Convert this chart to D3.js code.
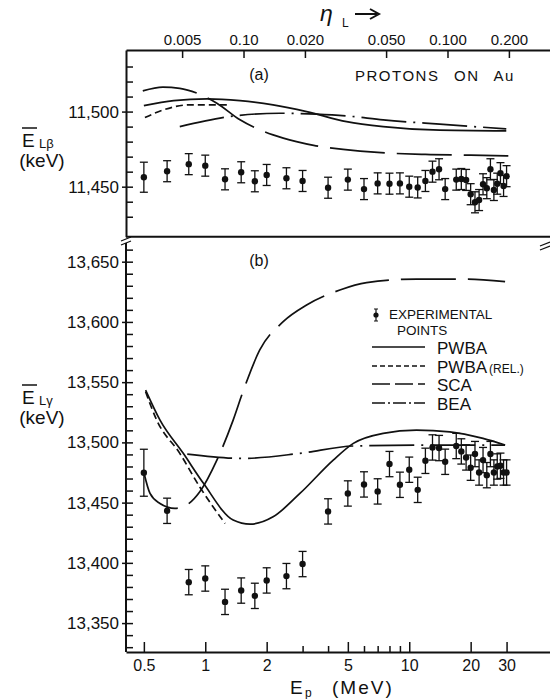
<!DOCTYPE html>
<html>
<head>
<meta charset="utf-8">
<script src="https://cdn.jsdelivr.net/npm/d3@7/dist/d3.min.js"></script>
<style>
  body { margin: 0; background: #fff; }
  svg { display: block; font-family: "Liberation Sans", Arial, sans-serif; }
  .axis path, .axis line { stroke: #111; }
  .axis text { fill: #111; }
</style>
</head>
<body>
<div id="chart"></div>
<script>
// Proton energies (MeV) of the measured points, shared by both panels
var energies = [0.5, 0.65, 0.83, 1.0, 1.25, 1.5, 1.75, 2.0, 2.5, 3.0, 4, 5, 6, 7, 8, 9, 10, 11,
                12, 13, 14, 15, 17, 18, 19, 20, 21, 22, 23, 24, 25, 26, 27, 28, 29, 30];

// (a) mean L-beta energy, keV
var lbetaValues = [11456.3, 11460.3, 11465, 11464, 11454.9, 11459.6, 11453.6, 11457.8, 11455.6, 11453.8,
                   11449.3, 11454.7, 11448.4, 11452.2, 11452, 11452.2, 11450, 11449.5, 11453.8, 11460,
                   11461.6, 11448.4, 11454.7, 11455.1, 11454.5, 11445, 11439.6, 11441.1, 11451.6, 11449,
                   11461.6, 11447.8, 11452, 11459, 11450.5, 11457];
var lbetaErrors = [10, 7, 7, 7, 7, 7, 7, 7, 7, 7, 7, 7, 7, 7, 7, 7, 7, 7,
                   7, 7, 7, 7, 7, 7, 7, 7, 7, 7, 7, 7, 7, 7, 7, 7, 7, 7];

// (b) mean L-gamma energy, keV
var lgammaValues = [13474.8, 13443.2, 13384, 13387, 13367.6, 13377, 13372.6, 13385.4, 13389, 13399,
                    13442.7, 13457.6, 13465.1, 13459.3, 13482, 13464.8, 13477.3, 13460.6, 13484.7, 13495.8,
                    13495.3, 13483.9, 13497, 13492.5, 13487.5, 13479, 13490.3, 13475, 13485.3, 13472.8,
                    13490.3, 13475, 13480, 13480.6, 13475, 13475];
var lgammaErrors = [19.5, 10.5, 10.5, 10.5, 10.5, 10.5, 10.5, 10.5, 10.5, 10.5, 10.5, 10.5, 10.5, 10.5, 10.5, 10.5, 10.5, 10.5,
                    10.5, 10.5, 10.5, 10.5, 10.5, 10.5, 10.5, 10.5, 10.5, 10.5, 10.5, 10.5, 10.5, 10.5, 10.5, 10.5, 10.5, 10.5];

// theory curves, panel (a)
var pwbaA_E = [0.5, 0.7, 1.02, 1.48, 2.15, 3.14, 4.93, 7.45, 13.1, 29.9];
var pwbaA_V = [11504, 11507.3, 11508.5, 11507.3, 11504.5, 11500, 11493.3, 11490, 11487.8, 11487.1];
var relA_E = [0.506, 0.623, 0.84, 1.32];
var relA_V = [11496, 11501.1, 11504.5, 11504.5];
var scaA_E = [0.494, 0.62, 0.75, 0.91, 1.14, 1.48, 2.15, 2.8, 3.4, 4.74, 7, 12, 20, 30.6];
var scaA_V = [11513.8, 11516.3, 11515.5, 11512.3, 11505.6, 11494.5, 11484.5, 11480, 11477.5, 11474.9, 11472.8, 11471.5, 11471, 11470.5];
var beaA_E = [0.75, 1.43, 2.32, 3.51, 4.93, 7.45, 14.1, 29.9];
var beaA_V = [11490, 11497.3, 11498.9, 11498.3, 11497.1, 11494.5, 11491.6, 11488.5];

// theory curves, panel (b)
var pwbaB_E = [0.51, 0.6, 0.78, 0.98, 1.37, 1.66, 2.15, 2.91, 4.24, 5.32, 7.45, 10.85, 15.8, 23, 29.5];
var pwbaB_V = [13543.4, 13518.5, 13490.9, 13466, 13435.5, 13432.1, 13438.2, 13457.6, 13485.3, 13499.2, 13507.5, 13510.2, 13508.8, 13503.3, 13497.8];
var relB_E = [0.51, 0.578, 0.75, 0.94, 1.25];
var relB_V = [13542, 13518.5, 13490.9, 13463, 13432.7];
var scaB_E = [0.5, 0.536, 0.6, 0.71, 0.81, 0.94, 1.14, 1.37, 1.54, 1.85, 2.41, 3.14, 4.57, 6.18, 10.85, 19.1, 29.5];
var scaB_V = [13475, 13457.6, 13449.3, 13445.2, 13448, 13459, 13485.3, 13518.5, 13543.4, 13576.7, 13600.2, 13614, 13626.5, 13632.6, 13635.6, 13635.6, 13633.4];
var beaB_E = [0.816, 1.54, 2.91, 5.32, 13.1, 29.5];
var beaB_V = [13490.3, 13486.7, 13490.9, 13497, 13497.8, 13497.8];

// tick values and labels
var energyTicks = [0.5, 1, 2, 5, 10, 20, 30];
var energyMinor = [3, 4, 6, 7, 8, 9];
var etaTicks = [0.005, 0.01, 0.02, 0.05, 0.1, 0.2];
var etaLabels = ["0.005", "0.10", "0.020", "0.050", "0.100", "0.200"];
var lbetaTicks = [11450, 11500];
var lgammaTicks = [13350, 13400, 13450, 13500, 13550, 13600, 13650];

var legendNames = ["PWBA", "PWBA", "SCA", "BEA"];

var width = 550, height = 699;
var ink = "#111";

var svg = d3.select("#chart").append("svg")
  .attr("width", width)
  .attr("height", height);

// scales
var x = d3.scaleLog().domain([0.4087, 48.98]).range([126, 550]);
var eta = d3.scaleLog().domain([0.4087 / 154, 48.98 / 154]).range([126, 550]);
var yA = d3.scaleLinear().domain([11416.7, 11541]).range([236.7, 50]);
var yB = d3.scaleLinear().domain([13326, 13668]).range([652, 240]);

function styleAxis(g, size) {
  g.attr("class", "axis");
  g.select(".domain").attr("stroke-width", 2);
  g.selectAll(".tick line").attr("stroke-width", 1.5);
  g.selectAll("text").attr("font-size", size);
}

// bottom axis
svg.append("g")
  .attr("transform", "translate(0,652)")
  .call(d3.axisBottom(x).tickValues(energyTicks).tickSize(-10).tickSizeOuter(0).tickPadding(8)
    .tickFormat(function(d) { return d3.format("")(d); }))
  .call(styleAxis, 16);
svg.append("g")
  .attr("transform", "translate(0,652)")
  .call(d3.axisBottom(x).tickValues(energyMinor).tickSize(-6).tickFormat(""))
  .call(function(g) { g.select(".domain").remove(); g.attr("class", "axis"); g.selectAll("line").attr("stroke-width", 1.5); });

// top eta axis
svg.append("g")
  .attr("transform", "translate(0,50)")
  .call(d3.axisTop(eta).tickValues(etaTicks).tickSize(-8).tickSizeOuter(0).tickPadding(5)
    .tickFormat(function(d, i) { return etaLabels[i]; }))
  .call(styleAxis, 15);

// panel (a) left axis
svg.append("g")
  .attr("transform", "translate(126,0)")
  .call(d3.axisLeft(yA).tickValues(lbetaTicks).tickSize(4).tickSizeOuter(0).tickPadding(3)
    .tickFormat(d3.format(",")))
  .call(styleAxis, 17);
svg.append("g")
  .attr("transform", "translate(126,0)")
  .call(d3.axisRight(yA).tickValues(d3.range(11430, 11531, 10)).tickSize(7).tickFormat(""))
  .call(function(g) { g.select(".domain").remove(); g.attr("class", "axis"); g.selectAll("line").attr("stroke-width", 1.5); });

// panel (a) bottom line
svg.append("line")
  .attr("x1", 126).attr("x2", 550)
  .attr("y1", yA.range()[0]).attr("y2", yA.range()[0])
  .attr("stroke", ink).attr("stroke-width", 2);

// panel (b) left axis
svg.append("g")
  .attr("transform", "translate(126,0)")
  .call(d3.axisLeft(yB).tickValues(lgammaTicks).tickSize(4).tickSizeOuter(0).tickPadding(3)
    .tickFormat(d3.format(",")))
  .call(styleAxis, 17)
  .call(function(g) { g.select(".domain").attr("d", "M0,243V652"); });
svg.append("g")
  .attr("transform", "translate(126,0)")
  .call(d3.axisRight(yB).tickValues(d3.range(13330, 13661, 10)).tickSize(7).tickFormat(""))
  .call(function(g) { g.select(".domain").remove(); g.attr("class", "axis"); g.selectAll("line").attr("stroke-width", 1.5); });

// axis break marks
[[126, 241], [545, 246]].forEach(function(p) {
  [-2, 2].forEach(function(o) {
    svg.append("line")
      .attr("x1", p[0] - 5).attr("y1", p[1] + o + 2)
      .attr("x2", p[0] + 5).attr("y2", p[1] + o - 2)
      .attr("stroke", ink).attr("stroke-width", 1.2);
  });
});

// curve helper
var dashes = { pwba: null, rel: "7,4", sca: "55,12", bea: "45,7,2,7" };

function drawCurve(es, vs, yScale, kind) {
  var pts = es.map(function(e, i) { return [x(e), yScale(vs[i])]; });
  svg.append("path")
    .datum(pts)
    .attr("fill", "none")
    .attr("stroke", ink)
    .attr("stroke-width", 1.7)
    .attr("stroke-dasharray", dashes[kind])
    .attr("d", d3.line().curve(d3.curveMonotoneX));
}

drawCurve(pwbaA_E, pwbaA_V, yA, "pwba");
drawCurve(relA_E, relA_V, yA, "rel");
drawCurve(scaA_E, scaA_V, yA, "sca");
drawCurve(beaA_E, beaA_V, yA, "bea");

drawCurve(pwbaB_E, pwbaB_V, yB, "pwba");
drawCurve(relB_E, relB_V, yB, "rel");
drawCurve(scaB_E, scaB_V, yB, "sca");
drawCurve(beaB_E, beaB_V, yB, "bea");

// experimental points with error bars
function drawPoints(vals, errs, yScale) {
  var rows = energies.map(function(e, i) { return { e: e, v: vals[i], err: errs[i] }; });
  var g = svg.append("g").selectAll("g").data(rows).enter().append("g");
  g.append("line")
    .attr("x1", function(d) { return x(d.e); }).attr("x2", function(d) { return x(d.e); })
    .attr("y1", function(d) { return yScale(d.v + d.err); })
    .attr("y2", function(d) { return yScale(d.v - d.err); })
    .attr("stroke", ink).attr("stroke-width", 1.3);
  [1, -1].forEach(function(s) {
    g.append("line")
      .attr("x1", function(d) { return x(d.e) - 4; }).attr("x2", function(d) { return x(d.e) + 4; })
      .attr("y1", function(d) { return yScale(d.v + s * d.err); })
      .attr("y2", function(d) { return yScale(d.v + s * d.err); })
      .attr("stroke", ink).attr("stroke-width", 1.3);
  });
  g.append("circle")
    .attr("cx", function(d) { return x(d.e); })
    .attr("cy", function(d) { return yScale(d.v); })
    .attr("r", 3.2)
    .attr("fill", ink);
}

drawPoints(lbetaValues, lbetaErrors, yA);
drawPoints(lgammaValues, lgammaErrors, yB);

// panel labels
svg.append("text").attr("x", 259).attr("y", 80).attr("text-anchor", "middle")
  .attr("font-size", 16).attr("fill", ink).text("(a)");
svg.append("text").attr("x", 259).attr("y", 266).attr("text-anchor", "middle")
  .attr("font-size", 16).attr("fill", ink).text("(b)");
svg.append("text").attr("x", 355).attr("y", 81)
  .attr("font-size", 15).attr("fill", ink)
  .attr("letter-spacing", 1.5).attr("word-spacing", 9)
  .text("PROTONS ON Au");

// y axis titles with overbar
function yTitle(yBase, sub) {
  svg.append("text").attr("x", 22).attr("y", yBase).attr("font-size", 19).attr("fill", ink).text("E");
  svg.append("line").attr("x1", 22).attr("x2", 37).attr("y1", yBase - 19).attr("y2", yBase - 19)
    .attr("stroke", ink).attr("stroke-width", 1.5);
  svg.append("text").attr("x", 39).attr("y", yBase + 1).attr("font-size", 13).attr("fill", ink).text(sub);
  svg.append("text").attr("x", 42).attr("y", yBase + 20).attr("text-anchor", "middle")
    .attr("font-size", 19).attr("fill", ink).text("(keV)");
}
yTitle(147, "Lβ");
yTitle(404, "Lγ");

// top title: eta_L with arrow
svg.append("text").attr("x", 320).attr("y", 21).attr("font-size", 23).attr("font-style", "italic")
  .attr("fill", ink).text("η");
svg.append("text").attr("x", 342).attr("y", 27).attr("font-size", 12).attr("fill", ink).text("L");
svg.append("line").attr("x1", 355).attr("x2", 377).attr("y1", 14).attr("y2", 14)
  .attr("stroke", ink).attr("stroke-width", 2);
svg.append("path").attr("d", "M370,9 L379,14 L370,19").attr("fill", "none")
  .attr("stroke", ink).attr("stroke-width", 2);

// bottom title
svg.append("text").attr("x", 290).attr("y", 694).attr("font-size", 19).attr("fill", ink).text("E");
svg.append("text").attr("x", 305).attr("y", 697).attr("font-size", 12).attr("fill", ink).text("p");
svg.append("text").attr("x", 332).attr("y", 694).attr("font-size", 19).attr("letter-spacing", 2)
  .attr("fill", ink).text("(MeV)");

// legend
var legendY = [347, 366, 384, 403];
var legendKinds = ["pwba", "rel", "sca", "bea"];
var legendDash = { pwba: null, rel: "5,3", sca: "18,5", bea: "13,3,2,3" };

var lg = svg.append("g");
lg.append("line").attr("x1", 376).attr("x2", 376).attr("y1", 309).attr("y2", 321)
  .attr("stroke", ink).attr("stroke-width", 1.2);
lg.append("line").attr("x1", 374).attr("x2", 378).attr("y1", 309).attr("y2", 309).attr("stroke", ink);
lg.append("line").attr("x1", 374).attr("x2", 378).attr("y1", 321).attr("y2", 321).attr("stroke", ink);
lg.append("circle").attr("cx", 376).attr("cy", 315).attr("r", 2.6).attr("fill", ink);
lg.append("text").attr("x", 389).attr("y", 319).attr("font-size", 13.5).attr("fill", ink).text("EXPERIMENTAL");
lg.append("text").attr("x", 397).attr("y", 335).attr("font-size", 13.5).attr("fill", ink).text("POINTS");

legendKinds.forEach(function(k, i) {
  lg.append("line")
    .attr("x1", 372).attr("x2", 425)
    .attr("y1", legendY[i]).attr("y2", legendY[i])
    .attr("stroke", ink).attr("stroke-width", 1.7)
    .attr("stroke-dasharray", legendDash[k]);
  var t = lg.append("text").attr("x", 437).attr("y", legendY[i] + 6.5)
    .attr("font-size", 17).attr("fill", ink).text(legendNames[i]);
  if (k === "rel") {
    t.append("tspan").attr("font-size", 12).attr("dx", 2).text("(REL.)");
  }
});
</script>
</body>
</html>
